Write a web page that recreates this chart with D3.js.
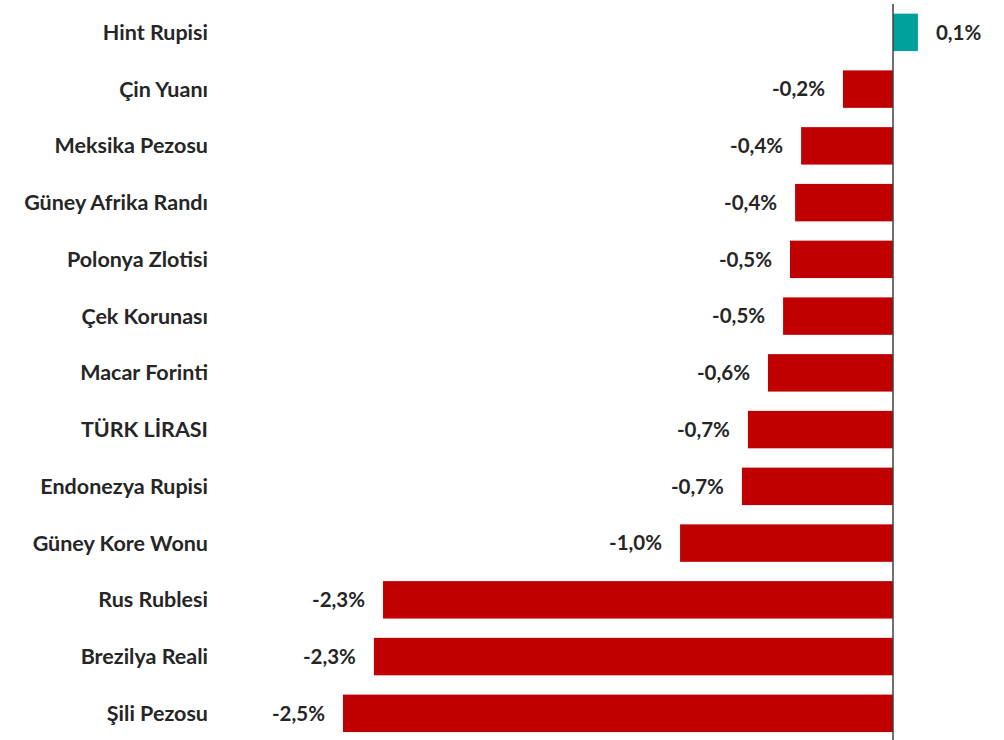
<!DOCTYPE html>
<html><head><meta charset="utf-8">
<script src="https://cdn.jsdelivr.net/npm/d3@7"></script>
<style>body{margin:0;background:#fff}svg{display:block}</style>
</head><body>
<svg id="c" width="1004" height="740"></svg>
<script>
const categories = ["Hint Rupisi","Çin Yuanı","Meksika Pezosu","Güney Afrika Randı","Polonya Zlotisi","Çek Korunası","Macar Forinti","TÜRK LİRASI","Endonezya Rupisi","Güney Kore Wonu","Rus Rublesi","Brezilya Reali","Şili Pezosu"];
const values = [0.112,-0.225,-0.413,-0.440,-0.463,-0.494,-0.562,-0.652,-0.679,-0.957,-2.292,-2.333,-2.472];
const labels = ["0,1%","-0,2%","-0,4%","-0,4%","-0,5%","-0,5%","-0,6%","-0,7%","-0,7%","-1,0%","-2,3%","-2,3%","-2,5%"];

const svg = d3.select("#c");
const x = d3.scaleLinear().domain([-2.5, 0.5]).range([336.75, 1004.25]);
const y = d3.scaleBand().domain(categories).range([4, 741.7]).paddingInner(0.34).paddingOuter(0.17);
const font = "Lato, 'Open Sans', sans-serif";
const data = categories.map((c,i)=>({c, v: values[i], l: labels[i]}));

svg.selectAll("rect.bar").data(data).join("rect")
  .attr("class","bar")
  .attr("x", d => x(Math.min(0,d.v)))
  .attr("width", d => Math.abs(x(d.v)-x(0)))
  .attr("y", d => y(d.c))
  .attr("height", y.bandwidth())
  .attr("fill", d => d.v >= 0 ? "#00A19D" : "#C00000");

svg.append("line")
  .attr("x1", x(0)).attr("x2", x(0)).attr("y1", 4).attr("y2", 740)
  .attr("stroke", "#404040").attr("stroke-width", 1.5);

svg.selectAll("text.cat").data(data).join("text")
  .attr("class","cat")
  .attr("x", 208)
  .attr("y", d => y(d.c) + y.bandwidth()/2)
  .attr("dy", "0.35em")
  .attr("text-anchor", "end")
  .attr("font-family", font).attr("font-weight", "bold").attr("font-size", 21.5)
  .attr("fill", "#262626")
  .text(d => d.c);

svg.selectAll("text.val").data(data).join("text")
  .attr("class","val")
  .attr("x", d => d.v >= 0 ? x(d.v) + 18 : x(d.v) - 18)
  .attr("y", d => y(d.c) + y.bandwidth()/2)
  .attr("dy", "0.35em")
  .attr("text-anchor", d => d.v >= 0 ? "start" : "end")
  .attr("font-family", font).attr("font-weight", "bold").attr("font-size", 20.5)
  .attr("fill", "#262626")
  .text(d => d.l);
</script>
</body></html>
